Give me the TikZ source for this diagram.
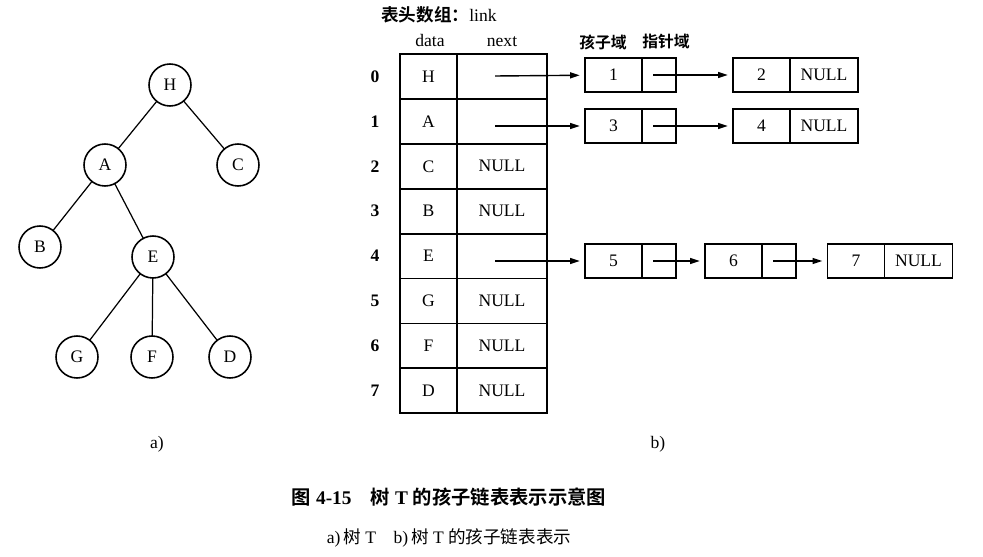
\documentclass[tikz,border=0pt]{standalone}
\usepackage{fontspec}
\setmainfont{Liberation Serif}
\newfontfamily\cjk{Noto Sans CJK SC}[BoldFont={Noto Sans CJK SC Bold}]
\usetikzlibrary{positioning,arrows.meta}

\begin{document}
\begin{tikzpicture}[x=0.02cm, y=-0.02cm,
  every node/.style={outer sep=0pt, font=\fontsize{10}{12}\selectfont},
  vertex/.style={draw, circle, line width=0.9pt, minimum size=0.84cm, inner sep=0pt},
  edge/.style={line width=0.7pt},
  datacell/.style={draw, line width=1pt, minimum width=1.14cm, minimum height=0.898cm, inner sep=0pt},
  nextcell/.style={datacell, minimum width=1.8cm},
  chld/.style={draw, line width=1pt, minimum width=1.14cm, minimum height=0.68cm, inner sep=0pt},
  ptr/.style={chld, minimum width=0.68cm},
  nul/.style={chld, minimum width=1.36cm},
  link/.style={-{Triangle[length=5.5pt,width=3.4pt]}, line width=0.8pt, shorten >=3pt},
  idx/.style={font=\fontsize{10}{12}\selectfont\bfseries}]
\useasboundingbox (0,0) rectangle (983,557);

% tree T
\node[vertex] (H) at (170,85) {H};
\node[vertex] (A) at (105,165) {A};
\node[vertex] (C) at (238,165) {C};
\node[vertex] (B) at (40,247) {B};
\node[vertex] (E) at (153,257) {E};
\node[vertex] (G) at (77,357) {G};
\node[vertex] (F) at (152,357) {F};
\node[vertex] (D) at (230,357) {D};
\draw[edge] (H) -- (A);
\draw[edge] (H) -- (C);
\draw[edge] (A) -- (B);
\draw[edge] (A) -- (E);
\draw[edge] (E) -- (G);
\draw[edge] (E) -- (F);
\draw[edge] (E) -- (D);
\node (capa) at (157,444) {a)};

% head array
\node (title) at (439,15) {{\cjk\bfseries 表头数组：}link};
\node[anchor=base] (hdata) at (430,47) {data};
\node[anchor=base] (hnext) at (502,47) {next};
\node[idx] (i0) at (375,76.5) {0};
\node[idx] (i1) at (375,121.4) {1};
\node[idx] (i2) at (375,166.3) {2};
\node[idx] (i3) at (375,211.2) {3};
\node[idx] (i4) at (375,256.1) {4};
\node[idx] (i5) at (375,301) {5};
\node[idx] (i6) at (375,345.9) {6};
\node[idx] (i7) at (375,390.8) {7};
\node[datacell] (d0) at (428.5,76.5) {H};
\node[datacell] (d1) at (428.5,121.4) {A};
\node[datacell] (d2) at (428.5,166.3) {C};
\node[datacell] (d3) at (428.5,211.2) {B};
\node[datacell] (d4) at (428.5,256.1) {E};
\node[datacell] (d5) at (428.5,301) {G};
\node[datacell] (d6) at (428.5,345.9) {F};
\node[datacell] (d7) at (428.5,390.8) {D};
\node[nextcell] (n0) at (502,76.5) {};
\node[nextcell] (n1) at (502,121.4) {};
\node[nextcell] (n2) at (502,166.3) {NULL};
\node[nextcell] (n3) at (502,211.2) {NULL};
\node[nextcell] (n4) at (502,256.1) {};
\node[nextcell] (n5) at (502,301) {NULL};
\node[nextcell] (n6) at (502,345.9) {NULL};
\node[nextcell] (n7) at (502,390.8) {NULL};
\node (capb) at (658,444) {b)};

% child lists
\node (hchild) at (603,42) {\cjk\bfseries\fontsize{9}{11}\selectfont 孩子域};
\node (hptr) at (666,42) {\cjk\bfseries\fontsize{9}{11}\selectfont 指针域};
\coordinate (s0) at (495,76);
\coordinate (s1) at (495,126);
\coordinate (s4) at (495,261);

\node[chld] (l1) at (613.5,75) {1};
\node[ptr, right=0pt of l1] (p1) {};
\node[chld] (l2) at (761.5,75) {2};
\node[nul, right=0pt of l2] (p2) {NULL};

\node[chld] (l3) at (613.5,126) {3};
\node[ptr, right=0pt of l3] (p3) {};
\node[chld] (l4) at (761.5,126) {4};
\node[nul, right=0pt of l4] (p4) {NULL};

\node[chld] (l5) at (613.5,261) {5};
\node[ptr, right=0pt of l5] (p5) {};
\node[chld] (l6) at (733.5,261) {6};
\node[ptr, right=0pt of l6] (p6) {};
\node[chld] (l7) at (856,261) {7};
\node[nul, right=0pt of l7] (p7) {NULL};

\draw[link] (s0) -- (l1);
\draw[link] (s1) -- (l3);
\draw[link] (s4) -- (l5);
\draw[link] ([xshift=-0.12cm]p1.center) -- (l2);
\draw[link] ([xshift=-0.12cm]p3.center) -- (l4);
\draw[link] ([xshift=-0.12cm]p5.center) -- (l6);
\draw[link] ([xshift=-0.12cm]p6.center) -- (l7);

% caption
\node (cap) at (449,497) {\fontsize{11}{13}\selectfont\bfseries{\cjk 图} 4-15\quad{\cjk 树} T {\cjk 的孩子链表表示示意图}};
\node (subcap) at (449,538) {a)\,{\cjk 树} T\quad b)\,{\cjk 树} T {\cjk 的孩子链表表示}};
\end{tikzpicture}
\end{document}
